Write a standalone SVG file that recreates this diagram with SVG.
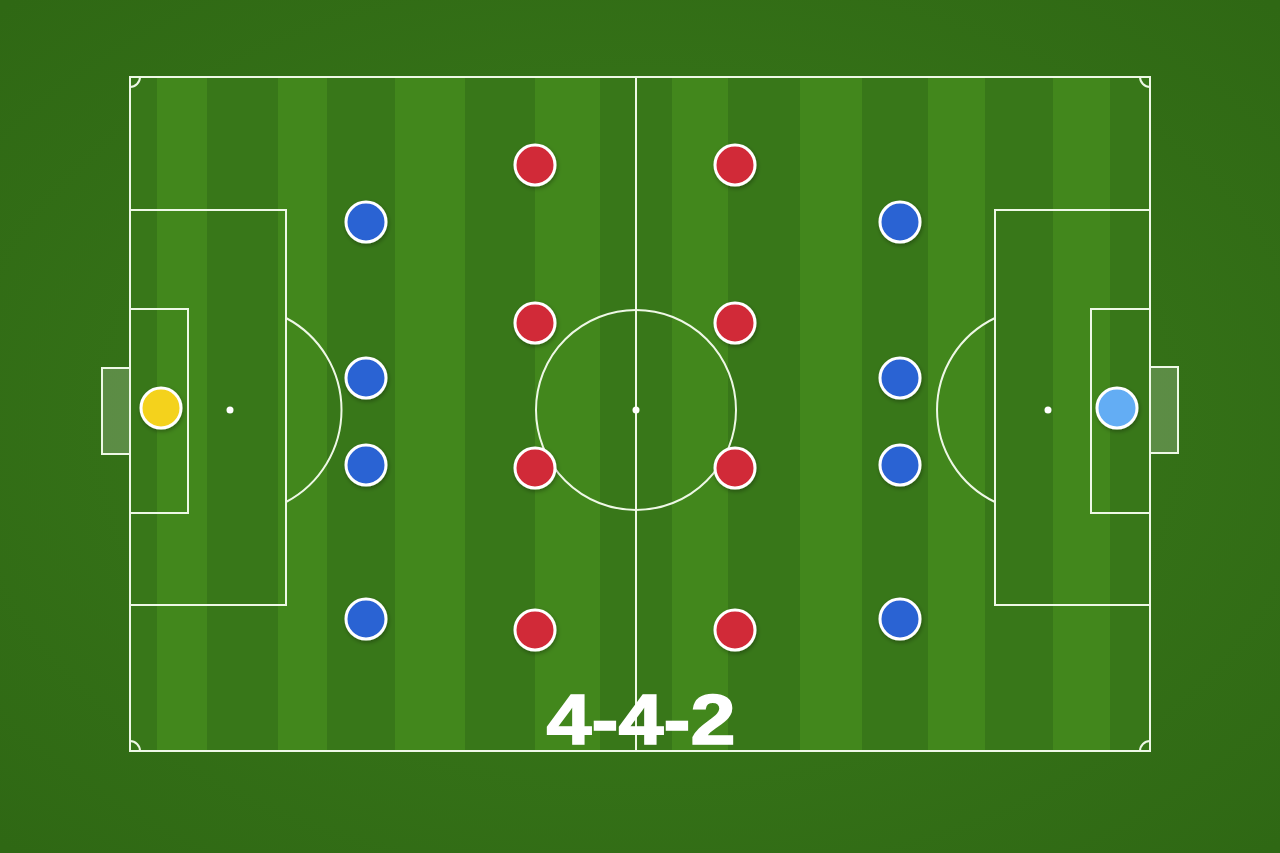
<svg xmlns="http://www.w3.org/2000/svg" width="1280" height="853" viewBox="0 0 1280 853">
  <defs>
    <radialGradient id="bg" cx="50%" cy="50%" r="70%">
      <stop offset="0%" stop-color="#3b7c1b"/>
      <stop offset="100%" stop-color="#2f6814"/>
    </radialGradient>
    <filter id="sh" x="-50%" y="-50%" width="200%" height="200%">
      <feDropShadow dx="1" dy="2" stdDeviation="2" flood-color="#000" flood-opacity="0.3"/>
    </filter>
    <style>
      .ln{fill:none;stroke:#eef8e6;stroke-width:2}
      .goal{fill:#ffffff;fill-opacity:0.2;stroke:#eef8e6;stroke-width:2}
      .dk{fill:#387719}
      .lt{fill:#42871c}
      .pl{stroke:#ffffff;stroke-width:3;filter:url(#sh)}
      .red{fill:#d12a37}
      .blue{fill:#2a63d3}
      .spot{fill:#ffffff}
      .title{font-family:"Liberation Sans",Arial,sans-serif;font-weight:bold;fill:#ffffff}
    </style>
  </defs>
  <rect width="1280" height="853" fill="url(#bg)"/>
  <g id="pitch">
    <rect x="130" y="77" width="1020" height="674" class="dk"/>
    <rect x="157" y="77" width="50" height="674" class="lt"/>
    <rect x="278" y="77" width="49" height="674" class="lt"/>
    <rect x="395" y="77" width="70" height="674" class="lt"/>
    <rect x="535" y="77" width="65" height="674" class="lt"/>
    <rect x="672" y="77" width="56" height="674" class="lt"/>
    <rect x="800" y="77" width="62" height="674" class="lt"/>
    <rect x="928" y="77" width="57" height="674" class="lt"/>
    <rect x="1053" y="77" width="57" height="674" class="lt"/>
  </g>
  <g id="markings">
    <rect x="102" y="368" width="28" height="86" class="goal"/>
    <rect x="1150" y="367" width="28" height="86" class="goal"/>
    <rect x="130" y="77" width="1020" height="674" class="ln"/>
    <line x1="636" y1="77" x2="636" y2="751" class="ln"/>
    <circle cx="636" cy="410" r="100" class="ln"/>
    <circle cx="636" cy="410" r="3.5" class="spot"/>
    <rect x="130" y="210" width="156" height="395" class="ln"/>
    <rect x="130" y="309" width="58" height="204" class="ln"/>
    <circle cx="230" cy="410" r="3.5" class="spot"/>
    <path d="M286,318 A104,104 0 0 1 286,502" class="ln"/>
    <rect x="995" y="210" width="155" height="395" class="ln"/>
    <rect x="1091" y="309" width="59" height="204" class="ln"/>
    <circle cx="1048" cy="410" r="3.5" class="spot"/>
    <path d="M995,318 A102,102 0 0 0 995,502" class="ln"/>
    <path d="M140,77 A10,10 0 0 1 130,87" class="ln"/>
    <path d="M1140,77 A10,10 0 0 0 1150,87" class="ln"/>
    <path d="M130,741 A10,10 0 0 1 140,751" class="ln"/>
    <path d="M1150,741 A10,10 0 0 0 1140,751" class="ln"/>
  </g>
  <g id="gk-left"><circle cx="161" cy="408" r="20" class="pl" fill="#f4d21c"/></g>
  <g id="gk-right"><circle cx="1117" cy="408" r="20" class="pl" fill="#63adf4"/></g>
  <g id="blue-players">
    <circle cx="366" cy="222" r="20" class="pl blue"/>
    <circle cx="366" cy="378" r="20" class="pl blue"/>
    <circle cx="366" cy="465" r="20" class="pl blue"/>
    <circle cx="366" cy="619" r="20" class="pl blue"/>
    <circle cx="900" cy="222" r="20" class="pl blue"/>
    <circle cx="900" cy="378" r="20" class="pl blue"/>
    <circle cx="900" cy="465" r="20" class="pl blue"/>
    <circle cx="900" cy="619" r="20" class="pl blue"/>
  </g>
  <g id="red-players">
    <circle cx="535" cy="165" r="20" class="pl red"/>
    <circle cx="535" cy="323" r="20" class="pl red"/>
    <circle cx="535" cy="468" r="20" class="pl red"/>
    <circle cx="535" cy="630" r="20" class="pl red"/>
    <circle cx="735" cy="165" r="20" class="pl red"/>
    <circle cx="735" cy="323" r="20" class="pl red"/>
    <circle cx="735" cy="468" r="20" class="pl red"/>
    <circle cx="735" cy="630" r="20" class="pl red"/>
  </g>
  <g id="label">
    <text x="641" y="744" text-anchor="middle" font-size="70" textLength="189" lengthAdjust="spacingAndGlyphs" class="title" stroke="#ffffff" stroke-width="1.5">4-4-2</text>
  </g>
</svg>
